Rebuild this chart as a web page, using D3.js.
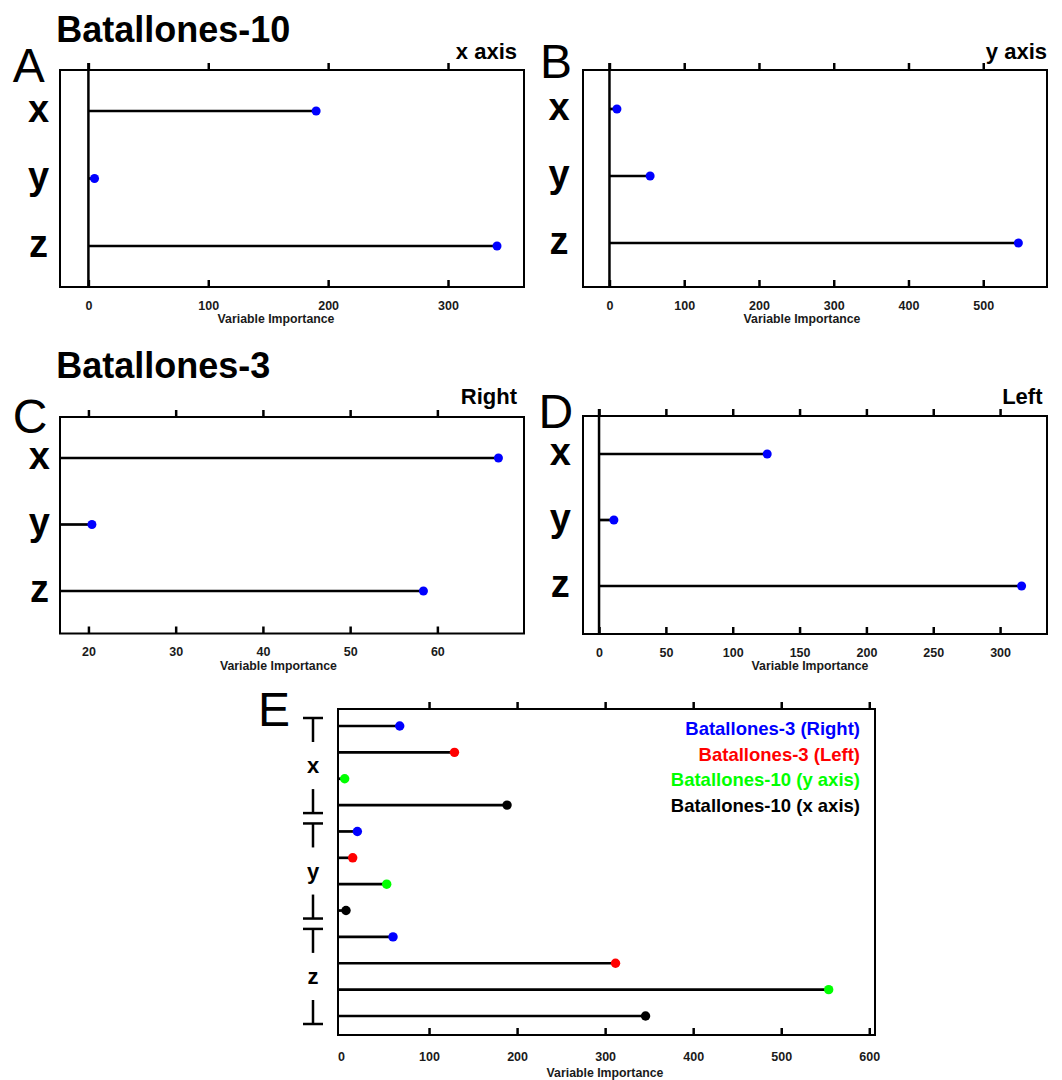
<!DOCTYPE html>
<html>
<head>
<meta charset="utf-8">
<script src="https://cdn.jsdelivr.net/npm/d3@7"></script>
<style>
  html, body { margin: 0; padding: 0; background: #fff; }
  svg { display: block; }
  text { font-family: "Liberation Sans", Arial, sans-serif; }
</style>
</head>
<body>
<svg id="chart" width="1062" height="1080"></svg>
<script>
// ---------------- data ----------------
const categories = ["x", "y", "z"];
const b10XAxis = [190, 5.1, 340.9];   // panel A
const b10YAxis = [10, 54.4, 547];     // panel B
const b3Right  = [67.0, 20.4, 58.4];  // panel C
const b3Left   = [125.8, 11.1, 316.1];// panel D

const ticksA = [0, 100, 200, 300];
const ticksB = [0, 100, 200, 300, 400, 500];
const ticksC = [20, 30, 40, 50, 60];
const ticksD = [0, 50, 100, 150, 200, 250, 300];
const ticksE = [0, 100, 200, 300, 400, 500, 600];

// panel E (combined)
const eSeries = ["Batallones-3 (Right)", "Batallones-3 (Left)", "Batallones-10 (y axis)", "Batallones-10 (x axis)"];
const eColors = ["#0000ff", "#ff0000", "#00ff00", "#000000"];
const eRight = [66.7, 18.6, 59.1];
const eLeft  = [128.9, 13.3, 311.8];
const eYAxis = [4.2, 51.9, 553.9];
const eXAxis = [188.6, 5.7, 345.9];

const xTitle = "Variable Importance";

// ---------------- layout ----------------
const svg = d3.select("#chart");
const FONT = '"Liberation Sans", Arial, sans-serif';

const panels = [
  { values: b10XAxis, ticks: ticksA, domain: [-23.7, 363.4], frame: [60, 70, 524, 287], inset: [41, 41],
    base: 0, zero: true, letter: "A", letterPos: [12.8, 82.2], corner: "x axis", cornerPos: [517, 59.2],
    rowLabelX: 38.5, titleX: 276 },
  { values: b10YAxis, ticks: ticksB, domain: [-35.4, 585.3], frame: [583, 70, 1047, 287], inset: [39, 44],
    base: 0, zero: true, letter: "B", letterPos: [540, 77.5], corner: "y axis", cornerPos: [1047, 59],
    rowLabelX: 559, titleX: 802 },
  { values: b3Right, ticks: ticksC, domain: [16.74, 69.93], frame: [60, 417, 524, 633.5], inset: [41, 42.5],
    base: null, zero: false, letter: "C", letterPos: [12.8, 432.5], corner: "Right", cornerPos: [517, 404.2],
    rowLabelX: 39.4, titleX: 278.4 },
  { values: b3Left, ticks: ticksD, domain: [-12, 335.1], frame: [583, 416, 1047, 634], inset: [38, 48],
    base: 0, zero: true, letter: "D", letterPos: [538.4, 428], corner: "Left", cornerPos: [1042.5, 404.4],
    rowLabelX: 560.2, titleX: 810 }
];

const mainTitles = [
  { text: "Batallones-10", x: 56.3, y: 42.3 },
  { text: "Batallones-3", x: 56.3, y: 378 }
];

svg.selectAll("text.maintitle").data(mainTitles).enter().append("text")
  .attr("class", "maintitle")
  .attr("x", d => d.x).attr("y", d => d.y)
  .attr("font-size", 36).attr("font-weight", "bold")
  .text(d => d.text);

function drawFrameAndAxes(g, x, frame, ticks, opts) {
  const [L, T, R, B] = frame;
  const topAxis = d3.axisTop(x).tickValues(opts.topTicks).tickSize(7).tickSizeOuter(0).tickFormat("");
  const botAxis = d3.axisTop(x).tickValues(opts.topTicks).tickSize(7).tickSizeOuter(0).tickFormat("");
  const gt = g.append("g").attr("transform", `translate(0,${T})`).call(topAxis);
  const gb = g.append("g").attr("transform", `translate(0,${B})`).call(botAxis);
  [gt, gb].forEach(a => {
    a.select(".domain").remove();
    a.selectAll(".tick line").attr("stroke", "#000").attr("stroke-width", 2.5);
  });
  const lab = d3.axisBottom(x).tickValues(ticks).tickSize(0).tickPadding(0);
  const gl = g.append("g").attr("transform", `translate(0,${B + opts.labelOffset})`).call(lab);
  gl.select(".domain").remove();
  gl.selectAll(".tick text")
    .attr("font-family", FONT).attr("font-size", 12.5).attr("font-weight", "bold")
    .attr("fill", "#1a1a1a").attr("dy", 0).attr("y", 0);
  g.append("rect")
    .attr("x", L).attr("y", T).attr("width", R - L).attr("height", B - T)
    .attr("fill", "none").attr("stroke", "#000").attr("stroke-width", 2);
  g.append("text")
    .attr("x", opts.titleX).attr("y", B + opts.titleOffset)
    .attr("text-anchor", "middle").attr("font-size", 12.3).attr("font-weight", "bold")
    .attr("fill", "#1a1a1a")
    .text(xTitle);
}

panels.forEach(p => {
  const g = svg.append("g");
  const [L, T, R, B] = p.frame;
  const x = d3.scaleLinear().domain(p.domain).range([L, R]);
  const y = d3.scalePoint().domain(categories).range([T + p.inset[0], B - p.inset[1]]);

  drawFrameAndAxes(g, x, p.frame, p.ticks, {
    topTicks: p.ticks, labelOffset: 22.8, titleOffset: 36, titleX: p.titleX
  });

  if (p.zero) {
    g.append("line")
      .attr("x1", x(0)).attr("x2", x(0))
      .attr("y1", T - 7).attr("y2", B)
      .attr("stroke", "#000").attr("stroke-width", 2.5);
  }

  const base = p.base === null ? p.domain[0] : p.base;
  const rows = categories.map((c, i) => ({ c, v: p.values[i] }));

  g.selectAll("line.stem").data(rows).enter().append("line")
    .attr("class", "stem")
    .attr("x1", x(base)).attr("x2", d => x(d.v))
    .attr("y1", d => y(d.c)).attr("y2", d => y(d.c))
    .attr("stroke", "#000").attr("stroke-width", 2.7);

  g.selectAll("circle.dot").data(rows).enter().append("circle")
    .attr("class", "dot")
    .attr("cx", d => x(d.v)).attr("cy", d => y(d.c)).attr("r", 4.5)
    .attr("fill", "#0000ff");

  g.selectAll("text.rowlab").data(categories).enter().append("text")
    .attr("class", "rowlab")
    .attr("x", p.rowLabelX).attr("y", d => y(d) + 10.5)
    .attr("text-anchor", "middle").attr("font-size", 38).attr("font-weight", "bold")
    .text(d => d);

  g.append("text")
    .attr("x", p.letterPos[0]).attr("y", p.letterPos[1])
    .attr("font-size", 48)
    .text(p.letter);

  g.append("text")
    .attr("x", p.cornerPos[0]).attr("y", p.cornerPos[1])
    .attr("text-anchor", "end").attr("font-size", 22).attr("font-weight", "bold")
    .text(p.corner);
});

// ---------------- panel E ----------------
(function () {
  const frame = [338, 709, 875, 1035];
  const [L, T, R, B] = frame;
  const g = svg.append("g");
  const x = d3.scaleLinear().domain([-3.4, 606.5]).range([L, R]);
  const seriesVals = [eRight, eLeft, eYAxis, eXAxis];
  const rows = [];
  categories.forEach((c, ci) => {
    eSeries.forEach((s, si) => {
      rows.push({ key: c + "|" + s, c, s, v: seriesVals[si][ci], color: eColors[si] });
    });
  });
  const y = d3.scalePoint().domain(rows.map(r => r.key)).range([T + 17, B - 19]);

  drawFrameAndAxes(g, x, frame, ticksE, {
    topTicks: ticksE.filter(t => t > 0), labelOffset: 25.5, titleOffset: 42, titleX: 605
  });

  g.selectAll("line.stem").data(rows).enter().append("line")
    .attr("class", "stem")
    .attr("x1", x(x.domain()[0])).attr("x2", d => x(d.v))
    .attr("y1", d => y(d.key)).attr("y2", d => y(d.key))
    .attr("stroke", "#000").attr("stroke-width", 2.7);

  g.selectAll("circle.dot").data(rows).enter().append("circle")
    .attr("class", "dot")
    .attr("cx", d => x(d.v)).attr("cy", d => y(d.key)).attr("r", 4.7)
    .attr("fill", d => d.color);

  const bx = 313, hw = 10;
  categories.forEach(c => {
    const first = y(c + "|" + eSeries[0]);
    const last = y(c + "|" + eSeries[eSeries.length - 1]);
    const top = first - 8, bot = last + 8;
    const gg = g.append("g").attr("stroke", "#000").attr("stroke-width", 2.5);
    gg.append("line").attr("x1", bx - hw).attr("x2", bx + hw).attr("y1", top).attr("y2", top);
    gg.append("line").attr("x1", bx).attr("x2", bx).attr("y1", top).attr("y2", top + 24);
    gg.append("line").attr("x1", bx - hw).attr("x2", bx + hw).attr("y1", bot).attr("y2", bot);
    gg.append("line").attr("x1", bx).attr("x2", bx).attr("y1", bot - 24).attr("y2", bot);
    g.append("text")
      .attr("x", bx).attr("y", (first + last) / 2 + 7.5)
      .attr("text-anchor", "middle").attr("font-size", 22).attr("font-weight", "bold")
      .text(c);
  });

  g.selectAll("text.leg").data(eSeries).enter().append("text")
    .attr("class", "leg")
    .attr("x", 860).attr("y", (d, i) => 735 + i * 25.7)
    .attr("text-anchor", "end")
    .attr("font-family", "Lato, 'Open Sans', sans-serif")
    .attr("font-size", 18.5).attr("font-weight", "bold")
    .attr("fill", (d, i) => eColors[i])
    .text(d => d);

  g.append("text")
    .attr("x", 258).attr("y", 725.7)
    .attr("font-size", 48)
    .text("E");
})();
</script>
</body>
</html>
